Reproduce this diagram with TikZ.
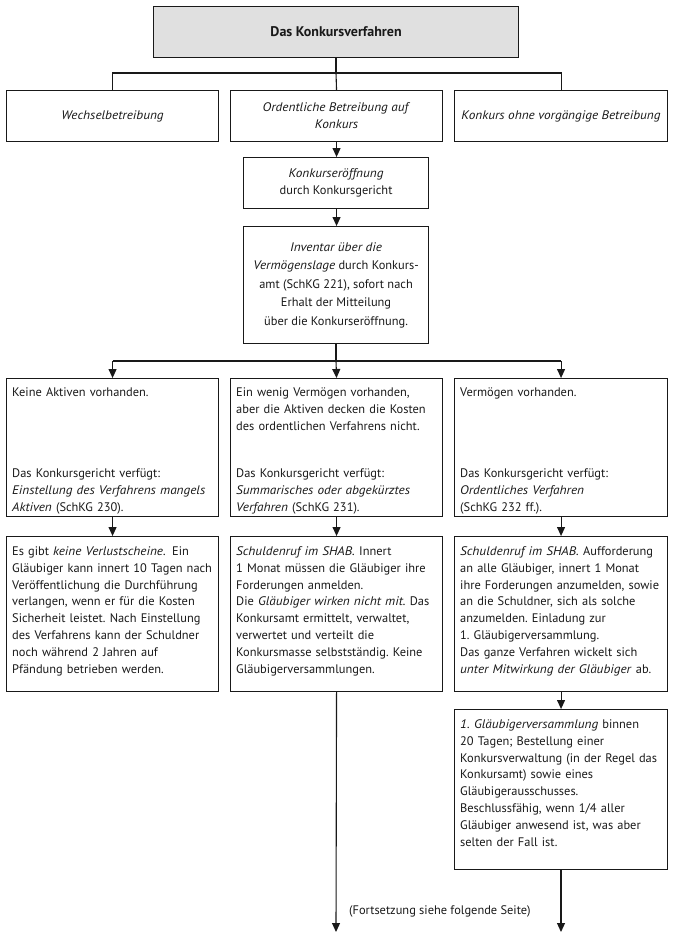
\documentclass[tikz,border=0pt]{standalone}
\usepackage{fontspec}
\setmainfont{PT Sans}[ItalicFeatures={FakeStretch=1.07}]
\usetikzlibrary{arrows.meta}
\definecolor{titlegray}{RGB}{224,224,224}
\definecolor{ink}{RGB}{25,25,25}
\frenchspacing
\begin{document}
\begin{tikzpicture}[x=1pt,y=-1pt,
  every node/.style={font=\fontsize{12.4}{16.8}\selectfont\frenchspacing, text=ink},
  box/.style={draw=ink, line width=1.1pt, inner sep=0pt, anchor=north west, align=center},
  txt/.style={inner sep=0pt, anchor=north west, text width=208pt, align=left},
  conn/.style={draw=ink, line width=1.1pt},
  arr/.style={conn, -{Triangle[width=8pt,length=9pt]}}]
\useasboundingbox (0,0) rectangle (673,940);

% title
\node[box, fill=titlegray, minimum width=365pt, minimum height=51pt, font=\fontsize{14}{17}\selectfont\bfseries] (title) at (153,6) {Das Konkursverfahren};

% row 2
\node[box, minimum width=212pt, minimum height=51pt] (wb) at (6,90) {\itshape Wechselbetreibung};
\node[box, minimum width=212pt, minimum height=51pt] (ob) at (230,90) {\textit{Ordentliche Betreibung auf}\\\textit{Konkurs}};
\node[box, minimum width=213pt, minimum height=51pt] (ko) at (454,90) {\itshape Konkurs ohne vorgängige Betreibung};

\coordinate (hb) at (336,73);
\draw[conn] (title.south -| hb) -- (hb);
\draw[conn] (wb.north) -- (wb.north |- hb) -- (ko.north |- hb) -- (ko.north);
\draw[conn] (hb) -- (ob.north);

% Konkurseröffnung
\node[box, minimum width=185pt, minimum height=51pt] (ke) at (243,157) {\textit{Konkurseröffnung}\\durch Konkursgericht};
\draw[arr] (ob.south) -- (ob.south |- ke.north);

% Inventar
\node[box, minimum width=185pt, minimum height=117pt, font=\fontsize{12.4}{18.5}\selectfont] (inv) at (243,226)
  {\textit{Inventar über die}\\\textit{Vermögenslage} durch Konkurs-\\amt (SchKG 221), sofort nach\\Erhalt der Mitteilung\\über die Konkurseröffnung.};
\draw[arr] (ke.south -| ob.south) -- (ob.south |- inv.north);

% row 4
\node[box, minimum width=212pt, minimum height=138pt] (l4) at (6,378) {};
\node[box, minimum width=212pt, minimum height=138pt] (m4) at (230,378) {};
\node[box, minimum width=213pt, minimum height=138pt] (r4) at (454,378) {};

\coordinate (hb2) at (336,361);
\draw[conn] (inv.south -| hb2) -- (hb2);
\draw[conn] (l4.north |- hb2) -- (r4.north |- hb2);
\draw[arr] (l4.north |- hb2) -- (l4.north);
\draw[arr] (hb2) -- (m4.north);
\draw[arr] (r4.north |- hb2) -- (r4.north);

\node[txt] (l4a) at ([xshift=6pt,yshift=-9.5pt]l4.north west) {Keine Aktiven vorhanden.};
\node[txt] (l4b) at ([xshift=6pt,yshift=-91pt]l4.north west) {Das Konkursgericht verfügt:\\\textit{Einstellung des Verfahrens mangels}\\\textit{Aktiven} (SchKG 230).};
\node[txt] (m4a) at ([xshift=6pt,yshift=-9.5pt]m4.north west) {Ein wenig Vermögen vorhanden,\\aber die Aktiven decken die Kosten\\des ordentlichen Verfahrens nicht.};
\node[txt] (m4b) at ([xshift=6pt,yshift=-91pt]m4.north west) {Das Konkursgericht verfügt:\\\textit{Summarisches oder abgekürztes}\\\textit{Verfahren} (SchKG 231).};
\node[txt] (r4a) at ([xshift=6pt,yshift=-9.5pt]r4.north west) {Vermögen vorhanden.};
\node[txt] (r4b) at ([xshift=6pt,yshift=-91pt]r4.north west) {Das Konkursgericht verfügt:\\\textit{Ordentliches Verfahren}\\(SchKG 232 ff.).};

% row 5
\node[box, minimum width=212pt, minimum height=155pt] (l5) at (6,536) {};
\node[box, minimum width=212pt, minimum height=155pt] (m5) at (230,536) {};
\node[box, minimum width=213pt, minimum height=155pt] (r5) at (454,536) {};
\draw[arr] (l4.south) -- (l5.north);
\draw[arr] (m4.south) -- (m5.north);
\draw[arr] (r4.south) -- (r5.north);

\node[txt] (l5t) at ([xshift=6pt,yshift=-10.5pt]l5.north west) {Es gibt \textit{keine Verlustscheine.}\hspace{0.5em}Ein\\Gläubiger kann innert 10 Tagen nach\\Veröffentlichung die Durchführung\\verlangen, wenn er für die Kosten\\Sicherheit leistet. Nach Einstellung\\des Verfahrens kann der Schuldner\\noch während 2 Jahren auf\\Pfändung betrieben werden.};
\node[txt] (m5t) at ([xshift=6pt,yshift=-10.5pt]m5.north west) {\textit{Schuldenruf im SHAB.} Innert\\1 Monat müssen die Gläubiger ihre\\Forderungen anmelden.\\Die \textit{Gläubiger wirken nicht mit.} Das\\Konkursamt ermittelt, verwaltet,\\verwertet und verteilt die\\Konkursmasse selbstständig. Keine\\Gläubigerversammlungen.};
\node[txt] (r5t) at ([xshift=6pt,yshift=-10.5pt]r5.north west) {\textit{Schuldenruf im SHAB.} Aufforderung\\an alle Gläubiger, innert 1 Monat\\ihre Forderungen anzumelden, sowie\\an die Schuldner, sich als solche\\anzumelden. Einladung zur\\1. Gläubigerversammlung.\\Das ganze Verfahren wickelt sich\\\textit{unter Mitwirkung der Gläubiger} ab.};

% row 6
\node[box, minimum width=213pt, minimum height=160pt] (r6) at (454,709) {};
\draw[arr] (r5.south) -- (r6.north);
\node[txt] (r6t) at ([xshift=6pt,yshift=-10.5pt]r6.north west) {\textit{1. Gläubigerversammlung} binnen\\20 Tagen; Bestellung einer\\Konkursverwaltung (in der Regel das\\Konkursamt) sowie eines\\Gläubigerausschusses.\\Beschlussfähig, wenn 1/4 aller\\Gläubiger anwesend ist, was aber\\selten der Fall ist.};

% continuation
\coordinate (mend) at (336,932);
\coordinate (rend) at (561,932);
\draw[arr] (m5.south) -- (mend);
\draw[arr] (r6.south -| rend) -- (rend);
\node[anchor=west, inner sep=0pt] (fs) at (349,911) {(Fortsetzung siehe folgende Seite)};
\end{tikzpicture}
\end{document}
